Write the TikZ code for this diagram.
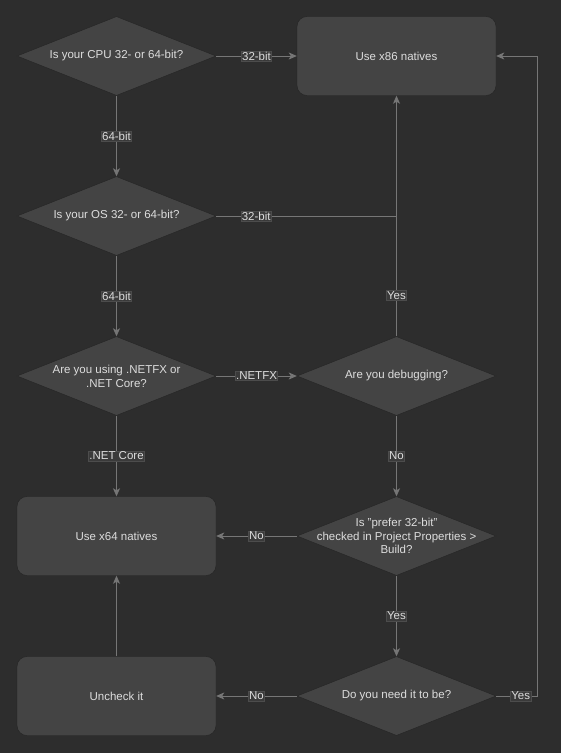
\documentclass[tikz,border=0pt]{standalone}
\usepackage{fontspec}
\setmainfont{Liberation Sans}
\usetikzlibrary{shapes.geometric,arrows.meta}
\definecolor{bgc}{HTML}{2D2D2D}
\definecolor{nodefill}{HTML}{444444}
\definecolor{nodeline}{HTML}{242424}
\definecolor{edgec}{HTML}{767676}
\definecolor{txtc}{HTML}{DDDDDD}
\definecolor{lblfill}{HTML}{3A3A3A}
\definecolor{lblline}{HTML}{4C4C4C}
\begin{document}
\begin{tikzpicture}[x=1pt,y=-1pt,
  font=\fontsize{11.5}{14}\selectfont, text=txtc,
  boxnode/.style={draw=nodeline, fill=nodefill, rounded corners=10pt, minimum width=199pt, minimum height=79pt, inner sep=0pt, align=center},
  decision/.style={diamond, draw=nodeline, fill=nodefill, minimum width=199pt, minimum height=79pt, inner sep=0pt, aspect=2.52},
  conn/.style={draw=edgec, line width=0.9pt, -{Stealth[length=8pt,width=7pt,inset=2pt]}},
  plainconn/.style={draw=edgec, line width=0.9pt},
  lbl/.style={fill=lblfill, draw=lblline, line width=0.6pt, inner sep=0.8pt, text=txtc, font=\fontsize{11.5}{14}\selectfont}
]
\fill[bgc] (0,0) rectangle (561,753);
\useasboundingbox (0,0) rectangle (561,753);

\node[decision, label={[align=center,text=txtc]center:Is your CPU 32- or 64-bit?}] (cpu) at (116.5,56) {};
\node[boxnode] (x86) at (396.5,56) {Use x86 natives};
\node[decision, label={[align=center,text=txtc]center:Is your OS 32- or 64-bit?}] (os) at (116.5,216) {};
\node[decision, label={[align=center,text=txtc]center:Are you using .NETFX or\\.NET Core?}] (fx) at (116.5,376) {};
\node[decision, label={[align=center,text=txtc]center:Are you debugging?}] (dbg) at (396.5,376) {};
\node[boxnode] (x64) at (116.5,536) {Use x64 natives};
\node[decision, label={[align=center,text=txtc,font=\fontsize{11.5}{13.5}\selectfont]center:Is "prefer 32-bit"\\checked in Project Properties >\\Build?}] (pref) at (396.5,536) {};
\node[boxnode] (unc) at (116.5,696) {Uncheck it};
\node[decision, label={[align=center,text=txtc]center:Do you need it to be?}] (need) at (396.5,696) {};

\coordinate (j1) at (396.5,216);
\coordinate (r1) at (537,696);
\coordinate (r2) at (537,56);

\draw[conn] (cpu.east) -- node[lbl] {32-bit} (x86.west);
\draw[conn] (cpu.south) -- node[lbl] {64-bit} (os.north);
\draw[plainconn] (os.east) -- node[lbl, pos=0.222] {32-bit} (j1);
\draw[conn] (os.south) -- node[lbl] {64-bit} (fx.north);
\draw[conn] (dbg.north) -- node[lbl, pos=0.17] {Yes} (x86.south);
\draw[conn] (fx.east) -- node[lbl] {.NETFX} (dbg.west);
\draw[conn] (fx.south) -- node[lbl] {.NET Core} (x64.north);
\draw[conn] (dbg.south) -- node[lbl] {No} (pref.north);
\draw[conn] (pref.west) -- node[lbl] {No} (x64.east);
\draw[conn] (pref.south) -- node[lbl] {Yes} (need.north);
\draw[conn] (need.west) -- node[lbl] {No} (unc.east);
\draw[conn] (need.east) -- node[lbl, pos=0.6] {Yes} (r1) -- (r2) -- (x86.east);
\draw[conn] (unc.north) -- (x64.south);
\end{tikzpicture}
\end{document}
